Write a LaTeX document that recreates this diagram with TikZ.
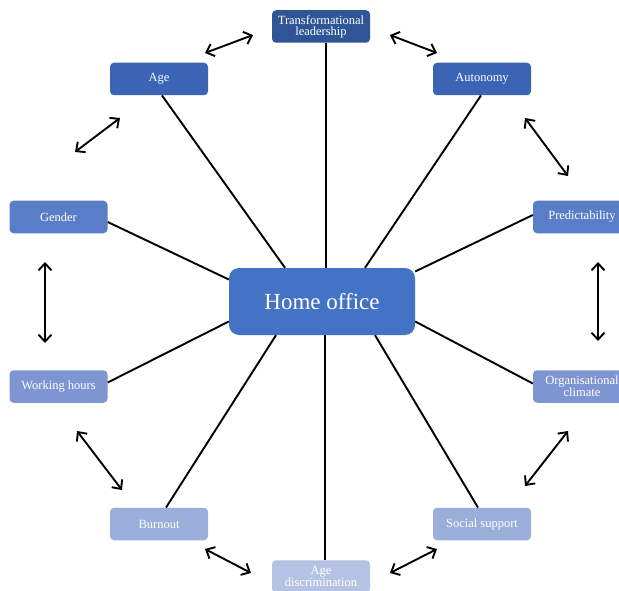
\documentclass[tikz,border=0pt]{standalone}
\usepackage{fontspec}
\setmainfont{Liberation Serif}
\usetikzlibrary{calc,arrows.meta}
\definecolor{c1}{HTML}{2F5597}
\definecolor{c2}{HTML}{3C64B4}
\definecolor{c3}{HTML}{5A7DC8}
\definecolor{c4}{HTML}{7D96D2}
\definecolor{c5}{HTML}{9AAEDA}
\definecolor{c6}{HTML}{B4C3E4}
\definecolor{cho}{HTML}{4472C4}
\tikzset{
  box/.style={rectangle, rounded corners=4pt, minimum width=98pt, minimum height=32.5pt, inner sep=1pt,
    text=white, align=center, font=\fontsize{12.5}{11}\selectfont, draw=none},
  spoke/.style={line width=1.9pt, black},
  dbl/.style={line width=1.9pt, {Straight Barb[length=7pt,width=13pt]}-{Straight Barb[length=7pt,width=13pt]}}
}
\begin{document}
\begin{tikzpicture}[x=1pt,y=-1pt]
\useasboundingbox (0,0) rectangle (619,591);
\clip (0,0) rectangle (619,591);
\fill[white] (0,0) rectangle (619,591);
\node[box, fill=c1] (tl) at (321,26.5) {Transformational\\leadership};
\node[box, fill=c2] (age) at (159,79) {Age};
\node[box, fill=c2] (aut) at (482,79) {Autonomy};
\node[box, fill=c3] (gen) at (58.5,217) {Gender};
\node[box, fill=c3] (pre) at (582,217) {Predictability};
\node[box, fill=c4] (wh) at (58.5,386.5) {Working hours};
\node[box, fill=c4] (org) at (582,386.5) {Organisational\\climate};
\node[box, fill=c5] (bur) at (159,524) {Burnout};
\node[box, fill=c5] (soc) at (482,524) {Social support};
\node[box, fill=c6] (adis) at (321,576.5) {Age\\discrimination};
\node[rectangle, rounded corners=10pt, minimum width=186pt, minimum height=67pt, fill=cho,
  text=white, font=\fontsize{23}{25}\selectfont] (ho) at (322,301.5) {Home office};
% spokes
\draw[spoke] ($(tl.south)+(5,0)$) -- ($(ho.north)+(4,0)$);
\draw[spoke] ($(adis.north)+(4,0)$) -- ($(ho.south)+(3,0)$);
\draw[spoke] ($(age.south)+(3,0)$) -- ($(ho.north)+(-37,0)$);
\draw[spoke] ($(aut.south)+(-1,0)$) -- ($(ho.north)+(43,0)$);
\draw[spoke] ($(gen.east)+(0,5)$) -- ($(ho.west)+(0,-22)$);
\draw[spoke] ($(wh.east)+(0,-4)$) -- ($(ho.west)+(0,20)$);
\draw[spoke] ($(pre.west)+(0,-2)$) -- ($(ho.east)+(0,-30)$);
\draw[spoke] ($(org.west)+(0,-3)$) -- ($(ho.east)+(0,20)$);
\draw[spoke] ($(bur.north)+(7,0)$) -- ($(ho.south)+(-46,0)$);
\draw[spoke] ($(soc.north)+(-4,0)$) -- ($(ho.south)+(53,0)$);
% double arrows
\coordinate (a1s) at (205,53); \coordinate (a1e) at (253,35);
\coordinate (a2s) at (390,35); \coordinate (a2e) at (437,53);
\coordinate (a3s) at (120,118); \coordinate (a3e) at (75,152);
\coordinate (a4s) at (525,118); \coordinate (a4e) at (568,176);
\coordinate (a5s) at (45,262); \coordinate (a5e) at (45,343);
\coordinate (a6s) at (598,262); \coordinate (a6e) at (598,341);
\coordinate (a7s) at (77,431); \coordinate (a7e) at (122,490);
\coordinate (a8s) at (568,431); \coordinate (a8e) at (525,486);
\coordinate (a9s) at (205,549); \coordinate (a9e) at (251,573);
\coordinate (a10s) at (390,573); \coordinate (a10e) at (437,549);
\foreach \i in {1,...,10} {\draw[dbl] (a\i s) -- (a\i e);}
\end{tikzpicture}
\end{document}
